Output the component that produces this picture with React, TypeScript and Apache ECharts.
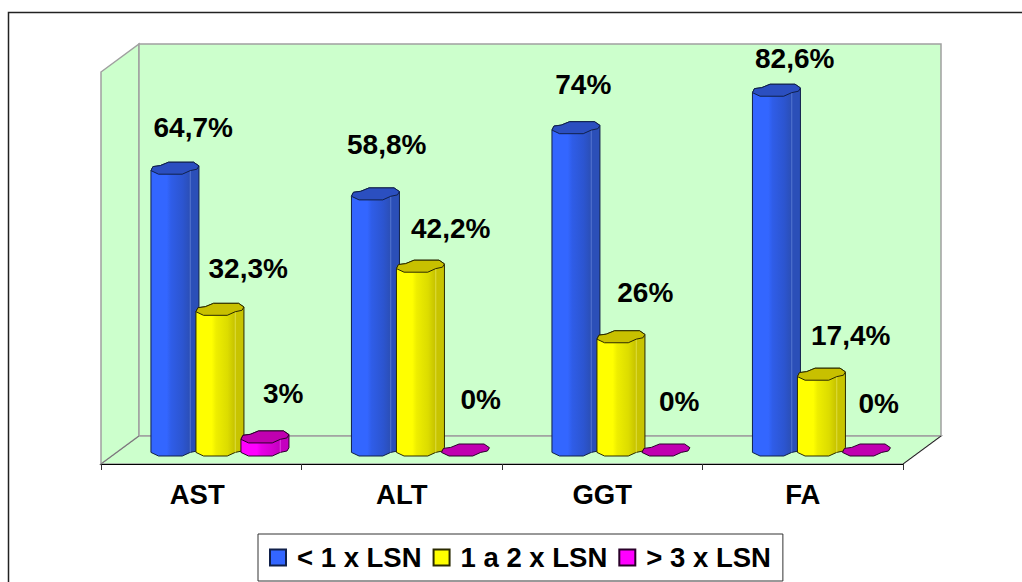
import React, { useEffect, useRef } from "react";
import * as echarts from "echarts";

const categories = ["AST", "ALT", "GGT", "FA"];
const seriesNames = ["< 1 x LSN", "1 a 2 x LSN", "> 3 x LSN"];
const lowValues = [64.7, 58.8, 74, 82.6];
const midValues = [32.3, 42.2, 26, 17.4];
const highValues = [3, 0, 0, 0];

// Hand-placed value labels: shift from the centre of each column's top cap.
const lowLabelShift = [[18, -41], [11, -49], [7, -43], [18, -32]];
const midLabelShift = [[28, -41], [30, -38], [24, -44], [29, -39]];
const highLabelShift = [[18, -43], [15, -51], [13, -49], [12, -47]];

const FONT = '"Liberation Sans", Arial, sans-serif';
const GRID = { left: 101, top: 72, width: 802, height: 392 };
const DEPTH_X = 38;
const DEPTH_Y = 28;
const COLUMN_STEP = 45;

// Irregular octagonal cap of a column, relative to its centre.
const cap = [
  [-24.3, 2.4], [-22.3, -1.6], [-15, -2.6], [-6.7, -6], [18.3, -6],
  [23.7, -2.3], [21.7, 1], [15, 2.4], [7, 6], [-16.7, 6],
];
const frontEdge = [[-24.3, 2.4], [-16.7, 6], [7, 6], [15, 2.4], [21.7, 1], [23.7, -2.3]];
const backRim = [[-22.3, -1.6], [-15, -2.6], [-6.7, -6], [18.3, -6]];

const palettes = [
  { face: "#3366ff", mid: "#2f5de8", low: "#2c55d0", side: "#2b4fb8", top: "#2b4fc0", rib: "#5576d0", edge: "#10204a" },
  { face: "#ffff00", mid: "#eeee00", low: "#dcdc00", side: "#c8c400", top: "#c8c000", rib: "#dede40", edge: "#2a2a00" },
  { face: "#ff00ff", mid: "#e800e8", low: "#d400d0", side: "#c400c0", top: "#c000b0", rib: "#e040e0", edge: "#2a002a" },
];

const decimal = (v: number) => String(v).replace(".", ",") + "%";

function makeColumnSeries(
  name: string,
  values: number[],
  shifts: number[][],
  slot: number,
  palette: (typeof palettes)[number],
) {
  return {
    name,
    type: "custom",
    coordinateSystem: "cartesian2d",
    itemStyle: { color: palette.face, borderColor: palette.edge, borderWidth: 1 },
    data: values.map((v, i) => [i, v]),
    encode: { x: 0, y: 1 },
    clip: false,
    renderItem: (_: unknown, api: any) => {
      const i = api.value(0);
      const v = api.value(1);
      const [tx, ty] = api.coord([i, v]);
      const [, by] = api.coord([i, 0]);
      const cx = tx + DEPTH_X / 2 + slot * COLUMN_STEP;
      const topY = ty - DEPTH_Y / 2;
      const baseY = by - DEPTH_Y / 2;
      const children: any[] = [];
      if (v > 0) {
        const upper = [frontEdge[0], ...backRim, frontEdge[5]].map(([x, y]) => [cx + x, topY + y]);
        const lower = [...frontEdge].reverse().map(([x, y]) => [cx + x, baseY + y]);
        children.push({
          type: "polygon",
          shape: { points: [...upper, ...lower] },
          style: {
            fill: new echarts.graphic.LinearGradient(0, 0, 1, 0, [
              { offset: 0, color: palette.face },
              { offset: 0.33, color: palette.face },
              { offset: 0.42, color: palette.mid },
              { offset: 0.66, color: palette.low },
              { offset: 0.8, color: palette.side },
              { offset: 1, color: palette.side },
            ]),
            stroke: palette.edge,
            lineWidth: 1,
          },
        });
        children.push({
          type: "line",
          shape: { x1: cx + 15, y1: topY + 2.4, x2: cx + 15, y2: baseY + 2.4 },
          style: { stroke: palette.rib, lineWidth: 1 },
        });
      }
      children.push({
        type: "polygon",
        shape: { points: cap.map(([x, y]) => [cx + x, topY + y]) },
        style: { fill: palette.top, stroke: palette.edge, lineWidth: 1 },
      });
      const [sx, sy] = shifts[i];
      children.push({
        type: "text",
        x: cx + sx,
        y: topY + sy,
        style: {
          text: decimal(v),
          fill: "#000",
          font: `bold 28px ${FONT}`,
          align: "center",
          verticalAlign: "middle",
        },
      });
      return { type: "group", children };
    },
  };
}

export default function App() {
  const ref = useRef<HTMLDivElement>(null);

  useEffect(() => {
    const chart = echarts.init(ref.current!, undefined, { renderer: "svg" });
    const l = GRID.left;
    const r = GRID.left + GRID.width;
    const t = GRID.top;
    const b = GRID.top + GRID.height;
    const wallStyle = { fill: "#ccffcc", stroke: "#a0a0a0", lineWidth: 1.5 };
    const axisFont = { color: "#000", fontFamily: FONT, fontWeight: "bold", fontSize: 27.5 };
    chart.setOption({
      animation: false,
      backgroundColor: "#ffffff",
      grid: { ...GRID, containLabel: false },
      xAxis: {
        type: "category",
        data: categories,
        boundaryGap: true,
        axisLine: { lineStyle: { color: "#000", width: 1.2 } },
        axisTick: { show: true, length: 6, alignWithLabel: false, lineStyle: { color: "#333", width: 1 } },
        axisLabel: {
          ...axisFont,
          margin: 16,
          // The first label sits a little left of its slot centre.
          formatter: (value: string, index: number) => (index === 0 ? `{first|${value}}` : `{rest|${value}}`),
          rich: {
            first: { ...axisFont, padding: [0, 8, 0, 0] },
            rest: { ...axisFont },
          },
        },
        splitLine: { show: false },
      },
      yAxis: { type: "value", min: 0, max: 90, interval: 10, show: false, splitLine: { show: false } },
      legend: {
        left: 258,
        top: 534,
        icon: "rect",
        itemWidth: 16,
        itemHeight: 16,
        itemGap: 11,
        padding: [9.5, 12, 9.5, 11],
        backgroundColor: "#fff",
        borderColor: "#333",
        borderWidth: 1,
        selectedMode: false,
        data: seriesNames,
        textStyle: { color: "#000", fontFamily: FONT, fontWeight: "bold", fontSize: 27.5, padding: [0, 0, 0, 6] },
      },
      graphic: [
        {
          type: "rect",
          z: -10,
          shape: { x: 8.5, y: 12.5, width: 1200, height: 800 },
          style: { fill: "#fff", stroke: "#222", lineWidth: 1.5 },
        },
        {
          type: "polygon",
          z: -9,
          shape: { points: [[l, t], [l + DEPTH_X, t - DEPTH_Y], [l + DEPTH_X, b - DEPTH_Y], [l, b]] },
          style: wallStyle,
        },
        {
          type: "rect",
          z: -9,
          shape: { x: l + DEPTH_X, y: t - DEPTH_Y, width: r - l, height: b - t },
          style: wallStyle,
        },
        {
          type: "polygon",
          z: -8,
          shape: { points: [[l, b], [l + DEPTH_X, b - DEPTH_Y], [r + DEPTH_X, b - DEPTH_Y], [r, b]] },
          style: wallStyle,
        },
        {
          type: "line",
          z: -7,
          shape: { x1: r, y1: b, x2: r + DEPTH_X, y2: b - DEPTH_Y },
          style: { stroke: "#222", lineWidth: 1 },
        },
        {
          type: "line",
          z: -7,
          shape: { x1: l, y1: b, x2: l + DEPTH_X, y2: b - DEPTH_Y },
          style: { stroke: "#777", lineWidth: 1 },
        },
      ],
      series: [
        makeColumnSeries(seriesNames[0], lowValues, lowLabelShift, -1, palettes[0]),
        makeColumnSeries(seriesNames[1], midValues, midLabelShift, 0, palettes[1]),
        makeColumnSeries(seriesNames[2], highValues, highLabelShift, 1, palettes[2]),
      ],
    });
    return () => chart.dispose();
  }, []);

  return <div ref={ref} style={{ position: "absolute", left: 0, top: 0, width: 1022, height: 582 }} />;
}
